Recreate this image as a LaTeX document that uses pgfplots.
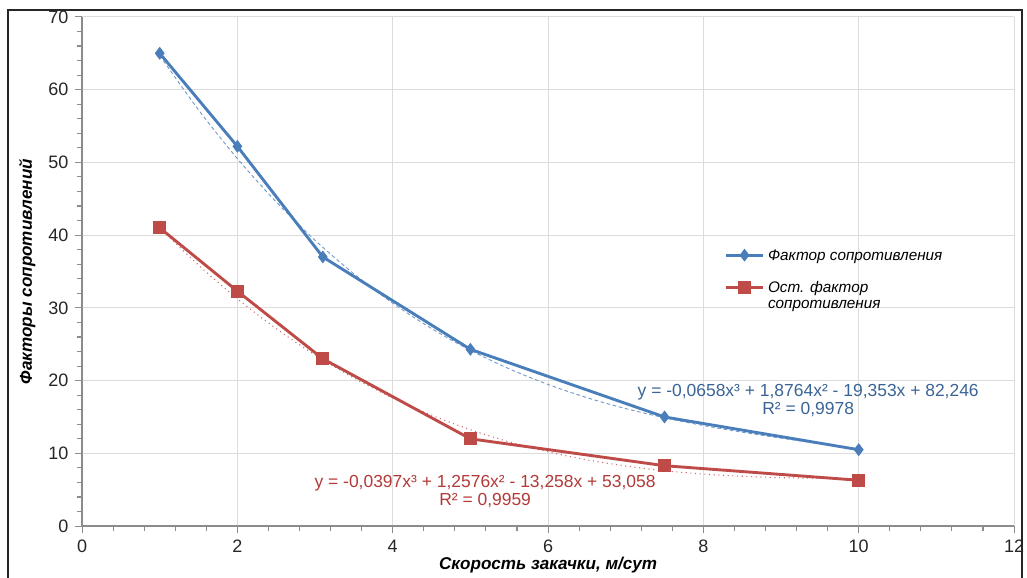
\documentclass[border=0pt]{standalone}
\usepackage{pgfplots}
\pgfplotsset{compat=1.18}
\usepackage{fontspec}
\setmainfont{Liberation Sans}

\definecolor{xlblue}{HTML}{4A7EBB}
\definecolor{xlred}{HTML}{BE4B48}
\definecolor{eqblue}{HTML}{3A6496}
\definecolor{eqred}{HTML}{B23A38}
\definecolor{gridgray}{HTML}{DCDCDC}
\definecolor{axgray}{HTML}{8C8C8C}

\begin{document}
\begin{tikzpicture}
\begin{axis}[
    scale only axis,
    width=518pt, height=283pt,
    xmin=0, xmax=12, ymin=0, ymax=70,
    xtick={0,2,...,12}, ytick={0,10,...,70},
    minor x tick num=4, minor y tick num=4,
    axis x line*=bottom, axis y line*=left,
    axis line style={axgray, line width=0.8pt},
    tick align=outside,
    major tick length=4pt, minor tick length=3pt,
    every tick/.style={axgray, line width=0.6pt},
    grid=major,
    major grid style={gridgray, line width=0.6pt},
    tick label style={font=\fontsize{10}{12}\selectfont, text=black!85},
    /pgf/number format/assume math mode=true,
    xlabel={\bfseries\itshape Скорость закачки, м/сут},
    ylabel={\bfseries\itshape Факторы сопротивлений},
    label style={font=\fontsize{9.5}{11}\selectfont},
    xlabel style={at={(rel axis cs:0.5,0)}, anchor=center, yshift=-21.7pt},
    ylabel style={at={(rel axis cs:0,0.5)}, anchor=center, yshift=30.5pt},
    legend cell align=left,
    legend style={draw=none, fill=none, at={(axis cs:8.2,39)}, anchor=north west,
        font=\fontsize{8.5}{9}\selectfont\itshape, row sep=6pt,
        cells={anchor=base west}},
    legend image code/.code={
        \draw[#1, mark repeat=2, mark phase=2] plot coordinates {(0cm,0.3em) (0.36cm,0.3em) (0.72cm,0.3em)};},
    clip=false,
]
\coordinate (ll) at (rel axis cs:0,0);
\coordinate (ur) at (rel axis cs:1,1);

% trendlines (values of the shown cubic fits, tabulated)
\addplot[xlblue!80, dashed, dash pattern=on 2pt off 1.5pt, line width=0.5pt, smooth, forget plot]
coordinates {(1,64.70) (1.5,57.22) (2,50.52) (2.5,44.56) (3,39.30) (3.5,34.68) (4,30.65)
 (4.5,27.16) (5,24.17) (5.5,21.62) (6,19.47) (6.5,17.66) (7,16.15) (7.5,14.89)
 (8,13.82) (8.5,12.91) (9,12.09) (9.5,11.32) (10,10.56)};
\addplot[xlred!80, dotted, line width=0.6pt, smooth, forget plot]
coordinates {(1,41.02) (1.5,35.87) (2,31.25) (2.5,27.15) (3,23.53) (3.5,20.36) (4,17.61)
 (4.5,15.25) (5,13.25) (5.5,11.58) (6,10.21) (6.5,9.11) (7,8.26) (7.5,7.61)
 (8,7.15) (8.5,6.85) (9,6.66) (9.5,6.57) (10,6.54)};

\addplot[xlblue, line width=1.6pt, mark=diamond*, mark size=3.2pt,
    mark options={fill=xlblue, draw=xlblue, line width=0.5pt}]
coordinates {(1,65) (2,52.2) (3.1,37) (5,24.3) (7.5,15) (10,10.5)};
\addlegendentry{Фактор сопротивления}

\addplot[xlred, line width=1.6pt, mark=square*, mark size=3.3pt,
    mark options={fill=xlred, draw=xlred, line width=0.5pt}]
coordinates {(1,41) (2,32.3) (3.1,23) (5,12) (7.5,8.3) (10,6.3)};
\addlegendentry{\begin{tabular}[t]{@{}l@{}}Ост. фактор\\сопротивления\end{tabular}}

\node[text=eqblue, align=center, font=\fontsize{9.7}{10}\selectfont]
    at (axis cs:9.35,17.2) {y = -0,0658x³ + 1,8764x² - 19,353x + 82,246\\R² = 0,9978};
\node[text=eqred, align=center, font=\fontsize{9.7}{10}\selectfont]
    at (axis cs:5.19,4.8) {y = -0,0397x³ + 1,2576x² - 13,258x + 53,058\\R² = 0,9959};
\end{axis}
\draw[black!85, line width=0.8pt] ([shift={(-41.1pt,-60pt)}]ll) rectangle ([shift={(4.4pt,3.9pt)}]ur);
\pgfresetboundingbox
\useasboundingbox ([shift={(-45.6pt,-28.3pt)}]ll) rectangle ([shift={(7.2pt,9.4pt)}]ur);
\end{tikzpicture}
\end{document}
